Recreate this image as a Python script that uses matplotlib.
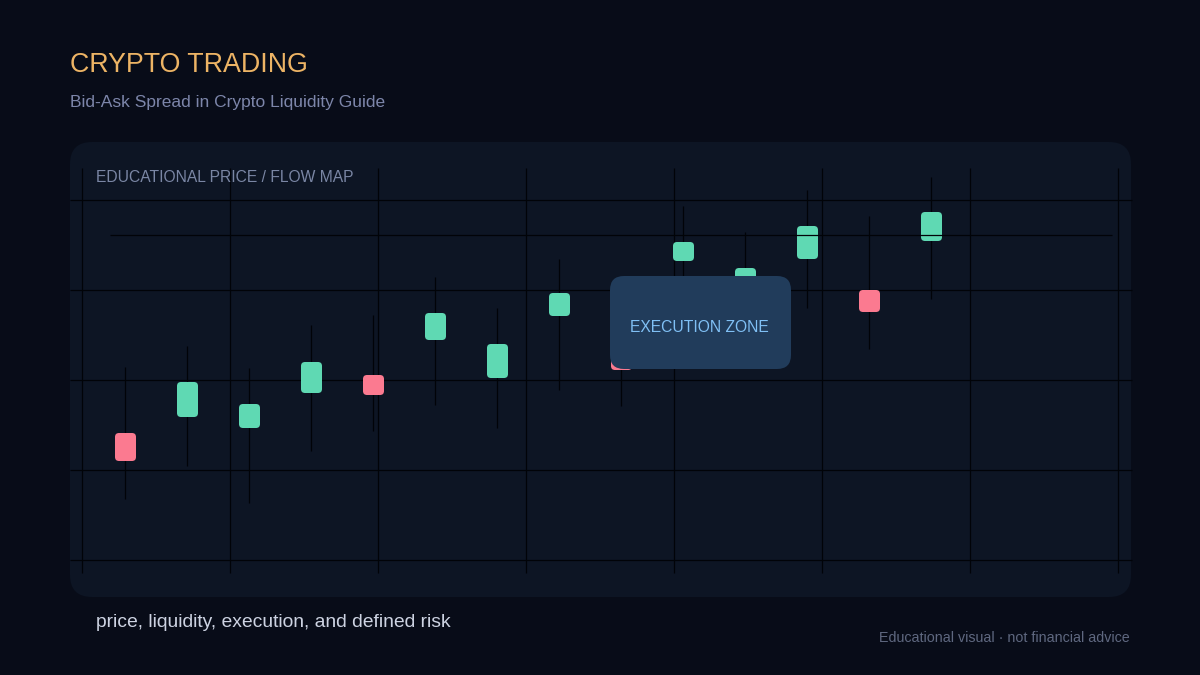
import matplotlib
matplotlib.use("Agg")
import matplotlib.pyplot as plt
from matplotlib.patches import FancyBboxPatch

candle_x = [125, 187, 249, 311, 373, 435, 497, 559, 621, 683, 745, 807, 869, 931]
body_top = [433, 382, 404, 362, 375, 313, 344, 293, 346, 242, 268, 226, 290, 212]
body_bot = [461, 417, 428, 393, 395, 340, 378, 316, 370, 261, 296, 259, 312, 241]
wick_top = [367, 346, 368, 325, 315, 277, 308, 259, 310, 206, 232, 190, 216, 177]
wick_bot = [499, 466, 503, 451, 431, 405, 428, 390, 406, 330, 340, 308, 349, 299]
candle_up = [False, True, True, True, False, True, True, True, False, True, True, True, False, True]

grid_x = [82, 230, 378, 526, 674, 822, 970, 1118]
grid_y = [200, 290, 380, 470, 560]
level_y = 235

BG = "#080c18"
PANEL = "#0d1524"
GREEN = "#5fd9b3"
RED = "#fb7a90"
LINE = "#010308"

plt.rcParams["font.family"] = ["Liberation Sans", "DejaVu Sans"]

fig = plt.figure(figsize=(12, 6.75), dpi=100, facecolor=BG)
ax = fig.add_axes([0, 0, 1, 1])
ax.set_xlim(0, 1200)
ax.set_ylim(675, 0)
ax.axis("off")


def rounded(x0, y0, x1, y1, r, color, z):
    ax.add_patch(FancyBboxPatch((x0 + r, y0 + r), x1 - x0 - 2 * r, y1 - y0 - 2 * r,
                                boxstyle=f"round,pad={r},rounding_size={r}",
                                fc=color, ec="none", zorder=z))


rounded(70, 142, 1131, 597, 22, PANEL, 1)

# grid
ax.vlines(grid_x, 168, 573, color=LINE, lw=0.9, zorder=2)
ax.hlines(grid_y, 70, 1132, color=LINE, lw=0.9, zorder=2)

# candles
ax.vlines(candle_x, wick_top, wick_bot, color=LINE, lw=0.9, zorder=3)
for x, top, bot, up in zip(candle_x, body_top, body_bot, candle_up):
    rounded(x - 10, top, x + 11, bot, 4, GREEN if up else RED, 4)

ax.hlines(level_y, 110, 1112, color=LINE, lw=0.9, zorder=5)

rounded(610, 276, 791, 369, 14, "#213c5b", 6)
ax.text(699.5, 327, "EXECUTION ZONE", color="#80c0f5", fontsize=11.27, ha="center", va="center", zorder=7)

ax.text(70, 64.5, "CRYPTO TRADING", color="#edb465", fontsize=19.3, va="center")
ax.text(70, 103, "Bid-Ask Spread in Crypto Liquidity Guide", color="#7d86aa", fontsize=12.55, va="center")
ax.text(96, 177.5, "EDUCATIONAL PRICE / FLOW MAP", color="#7a86a4", fontsize=11.27, va="center", zorder=7)
ax.text(96, 622.5, "price, liquidity, execution, and defined risk", color="#cdd3e2", fontsize=13.9, va="center")
ax.text(1130, 638, "Educational visual · not financial advice", color="#5f6880", fontsize=10.3,
        ha="right", va="center")

fig.savefig("out.png", dpi=100, facecolor=BG)
